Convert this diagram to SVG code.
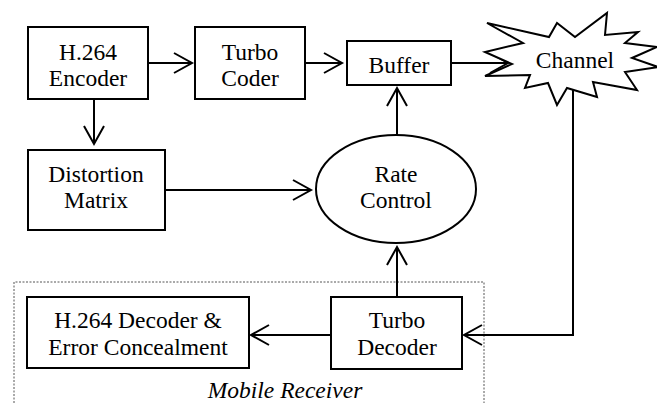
<svg xmlns="http://www.w3.org/2000/svg" width="657" height="403" viewBox="0 0 657 403">
<style>
.box{fill:#fff;stroke:#000;stroke-width:2}
.ln{fill:none;stroke:#000;stroke-width:2}
.lbl{font-family:'Liberation Serif','Times New Roman',serif;font-size:23.5px;text-anchor:middle;fill:#000}
</style>
<defs>
<marker id="ah" markerUnits="userSpaceOnUse" markerWidth="24" markerHeight="24" viewBox="-20 -12 22 24" refX="0" refY="0" orient="auto">
<path d="M-18,-10 L0,0 L-18,10" fill="none" stroke="#000" stroke-width="2"/>
</marker>
</defs>
<rect width="657" height="403" fill="#fff"/>
<g id="receiver-frame">
<path d="M14,403 V282 H484 V403" fill="none" stroke="#555" stroke-width="1" stroke-dasharray="2,1.5"/>
<text class="lbl" font-family="Liberation Serif, serif" x="285" y="398" font-style="italic">Mobile Receiver</text>
</g>
<g id="connectors">
<line class="ln" x1="148" y1="63" x2="192" y2="63" marker-end="url(#ah)"/>
<line class="ln" x1="305" y1="63" x2="342" y2="63" marker-end="url(#ah)"/>
<line class="ln" x1="451" y1="63" x2="508" y2="63" marker-end="url(#ah)"/>
<line class="ln" x1="94" y1="99" x2="94" y2="144" marker-end="url(#ah)"/>
<line class="ln" x1="165" y1="190" x2="311" y2="190" marker-end="url(#ah)"/>
<line class="ln" x1="397" y1="135" x2="397" y2="88" marker-end="url(#ah)"/>
<line class="ln" x1="397" y1="297" x2="397" y2="247" marker-end="url(#ah)"/>
<polyline class="ln" points="573,80 573,335 464,335" marker-end="url(#ah)"/>
<line class="ln" x1="331" y1="335" x2="251" y2="335" marker-end="url(#ah)"/>
</g>
<g id="h264-encoder">
<rect class="box" x="28" y="27" width="120" height="72"/>
<text class="lbl" font-family="Liberation Serif, serif" x="88" y="60">H.264</text>
<text class="lbl" font-family="Liberation Serif, serif" x="88" y="86">Encoder</text>
</g>
<g id="turbo-coder">
<rect class="box" x="195" y="27" width="110" height="72"/>
<text class="lbl" font-family="Liberation Serif, serif" x="250" y="60">Turbo</text>
<text class="lbl" font-family="Liberation Serif, serif" x="250" y="86">Coder</text>
</g>
<g id="buffer">
<rect class="box" x="347" y="41" width="104" height="44"/>
<text class="lbl" font-family="Liberation Serif, serif" x="399" y="73">Buffer</text>
</g>
<g id="channel">
<polygon points="487,23 549,37 557,23 575,37 607,13 605,35 638,32 625,43 657,47 632,58 658,67 625,72 637,90 593,82 597,97 567,88 557,105 548,83 525,88 530,75 485,76 512,64 485,52 523,43" fill="#fff" stroke="#000" stroke-width="2"/>
<text class="lbl" font-family="Liberation Serif, serif" x="575" y="68">Channel</text>
</g>
<g id="distortion-matrix">
<rect class="box" x="28" y="150" width="137" height="80"/>
<text class="lbl" font-family="Liberation Serif, serif" x="96" y="182">Distortion</text>
<text class="lbl" font-family="Liberation Serif, serif" x="96" y="208">Matrix</text>
</g>
<g id="rate-control">
<ellipse class="box" cx="396" cy="189" rx="80" ry="54"/>
<text class="lbl" font-family="Liberation Serif, serif" x="396" y="182">Rate</text>
<text class="lbl" font-family="Liberation Serif, serif" x="396" y="208">Control</text>
</g>
<g id="turbo-decoder">
<rect class="box" x="331" y="297" width="131" height="72"/>
<text class="lbl" font-family="Liberation Serif, serif" x="397" y="328">Turbo</text>
<text class="lbl" font-family="Liberation Serif, serif" x="397" y="355">Decoder</text>
</g>
<g id="h264-decoder">
<rect class="box" x="27" y="297" width="222" height="71"/>
<text class="lbl" font-family="Liberation Serif, serif" x="138" y="328">H.264 Decoder &amp;</text>
<text class="lbl" font-family="Liberation Serif, serif" x="138" y="355">Error Concealment</text>
</g>
</svg>
